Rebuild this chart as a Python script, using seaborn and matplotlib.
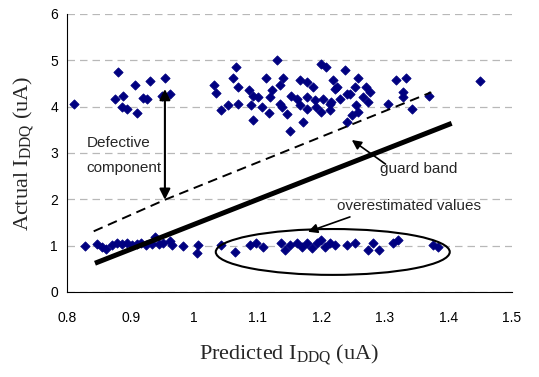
import matplotlib
matplotlib.use("Agg")
import matplotlib.pyplot as plt
import seaborn as sns
import pandas as pd
from matplotlib.patches import Ellipse

# ---- data ----
top_x = [0.811, 0.880, 0.875, 0.888, 0.886, 0.894, 0.907, 0.930, 0.919, 0.926, 0.910, 0.954, 0.950, 0.962,
         1.130, 1.066, 1.200, 1.207, 1.237, 1.061, 1.113, 1.140, 1.031, 1.035, 1.069, 1.087, 1.093, 1.100,
         1.123, 1.135, 1.166, 1.177, 1.187, 1.219, 1.224, 1.119, 1.153, 1.161, 1.177, 1.190, 1.203, 1.216,
         1.229, 1.240, 1.054, 1.042, 1.069, 1.089, 1.106, 1.117, 1.135, 1.138, 1.166, 1.177, 1.192, 1.200,
         1.213, 1.146, 1.092, 1.171, 1.150, 1.240, 1.258, 1.221, 1.245, 1.253, 1.271, 1.276, 1.266, 1.274,
         1.318, 1.333, 1.329, 1.329, 1.305, 1.342, 1.370, 1.450, 1.255, 1.258, 1.248, 1.213]
top_y = [4.06, 4.75, 4.17, 4.22, 4.00, 3.96, 4.46, 4.55, 4.19, 4.17, 3.86, 4.61, 4.24, 4.27,
         5.00, 4.86, 4.92, 4.86, 4.80, 4.62, 4.62, 4.62, 4.47, 4.30, 4.42, 4.37, 4.24, 4.21,
         4.37, 4.46, 4.57, 4.53, 4.42, 4.57, 4.42, 4.21, 4.24, 4.17, 4.21, 4.14, 4.17, 4.10,
         4.17, 4.28, 4.03, 3.92, 4.06, 4.03, 3.99, 3.86, 4.06, 3.99, 4.03, 3.96, 3.99, 3.88,
         3.92, 3.84, 3.72, 3.67, 3.47, 3.67, 4.62, 4.39, 4.28, 4.42, 4.42, 4.32, 4.21, 4.10,
         4.57, 4.62, 4.32, 4.21, 4.06, 3.96, 4.23, 4.55, 4.03, 3.88, 3.81, 4.06]

bot_x = [0.829, 0.847, 0.855, 0.862, 0.870, 0.878, 0.886, 0.894, 0.902, 0.910, 0.917, 0.925, 0.933, 0.938,
         0.944, 0.951, 0.962, 0.965, 0.983, 1.006, 1.004,
         1.043, 1.064, 1.088, 1.098, 1.109, 1.137, 1.143, 1.151, 1.161, 1.169, 1.177, 1.185, 1.193, 1.200,
         1.206, 1.213, 1.221, 1.240, 1.253, 1.274, 1.282, 1.290, 1.313, 1.321, 1.376, 1.384]
bot_y = [1.00, 1.04, 0.98, 0.92, 1.01, 1.05, 1.03, 1.05, 1.01, 1.04, 1.05, 1.02, 1.04, 1.18,
         1.04, 1.06, 1.09, 1.02, 0.99, 1.01, 0.84,
         1.01, 0.87, 1.01, 1.05, 0.98, 1.05, 0.91, 1.01, 1.05, 0.98, 1.05, 0.94, 1.05, 1.12,
         0.98, 1.05, 1.01, 1.01, 1.05, 0.91, 1.05, 0.91, 1.05, 1.12, 1.01, 0.98]

guard_x = [0.842, 0.954, 1.182, 1.373]
guard_y = [1.31, 1.99, 3.25, 4.31]
limit_x = [0.844, 1.405]
limit_y = [0.62, 3.64]

xticks = [0.8, 0.9, 1.0, 1.1, 1.2, 1.3, 1.4, 1.5]
xtick_labels = ["0.8", "0.9", "1", "1.1", "1.2", "1.3", "1.4", "1.5"]
yticks = [0, 1, 2, 3, 4, 5, 6]

df = pd.DataFrame({"pred": top_x + bot_x, "actual": top_y + bot_y})

# ---- style ----
sns.set_style("white")
plt.rcParams["font.family"] = ["Liberation Sans", "DejaVu Sans"]
plt.rcParams["mathtext.fontset"] = "custom"
plt.rcParams["mathtext.rm"] = "Liberation Serif"
plt.rcParams["mathtext.it"] = "Liberation Serif:italic"

fig = plt.figure(figsize=(5.39, 3.77), dpi=100)
ax = fig.add_axes([0.1243, 0.2255, 0.8257, 0.7374])

# grid
ax.set_axisbelow(True)
ax.yaxis.grid(True, color="#b8b8b8", lw=0.9, ls=(0, (6, 4)))
ax.xaxis.grid(False)

sns.scatterplot(data=df, x="pred", y="actual", marker="D", color="#000080",
                edgecolor="#000080", linewidth=0.6, s=22, ax=ax, zorder=3, legend=False)

ax.plot(guard_x, guard_y, color="black", lw=1.4, ls=(0, (5, 3)), zorder=4)
ax.plot(limit_x, limit_y, color="black", lw=3.6, solid_capstyle="butt", zorder=4)

ell = Ellipse((1.218, 0.864), 0.368, 0.99, fill=False, edgecolor="black", lw=1.5, zorder=5)
ax.add_patch(ell)

# annotations
ax.annotate("", xy=(0.954, 4.38), xytext=(0.954, 1.99),
            arrowprops=dict(arrowstyle="<|-|>", color="black", lw=1.5, mutation_scale=16,
                            shrinkA=0, shrinkB=0), zorder=6)
ax.text(0.831, 3.22, "Defective", fontsize=11, va="center", ha="left")
ax.text(0.831, 2.68, "component", fontsize=11, va="center", ha="left")

ax.annotate("", xy=(1.248, 3.28), xytext=(1.301, 2.76),
            arrowprops=dict(arrowstyle="-|>", color="black", lw=1.2, mutation_scale=14,
                            shrinkA=0, shrinkB=0), zorder=6)
ax.text(1.292, 2.66, "guard band", fontsize=11, va="center", ha="left")

ax.annotate("", xy=(1.179, 1.30), xytext=(1.245, 1.62),
            arrowprops=dict(arrowstyle="-|>", color="black", lw=1.2, mutation_scale=14,
                            shrinkA=0, shrinkB=0), zorder=6)
ax.text(1.225, 1.86, "overestimated values", fontsize=11, va="center", ha="left")

# axes
ax.set_xlim(0.8, 1.5)
ax.set_ylim(0, 6)
ax.set_xticks(xticks)
ax.set_xticklabels(xtick_labels)
ax.set_yticks(yticks)
ax.tick_params(axis="both", labelsize=10, direction="out", length=3, width=0.8, colors="black")
ax.tick_params(axis="x", pad=11)
for s in ["top", "right"]:
    ax.spines[s].set_visible(False)
for s in ["left", "bottom"]:
    ax.spines[s].set_color("black")
    ax.spines[s].set_linewidth(0.8)

ax.set_xlabel(r"Predicted I$_{\mathrm{DDQ}}$ (uA)", fontsize=16, family="Liberation Serif", labelpad=12)
ax.set_ylabel(r"Actual I$_{\mathrm{DDQ}}$ (uA)", fontsize=16, family="Liberation Serif", labelpad=10)

fig.savefig("out.png", dpi=100)
